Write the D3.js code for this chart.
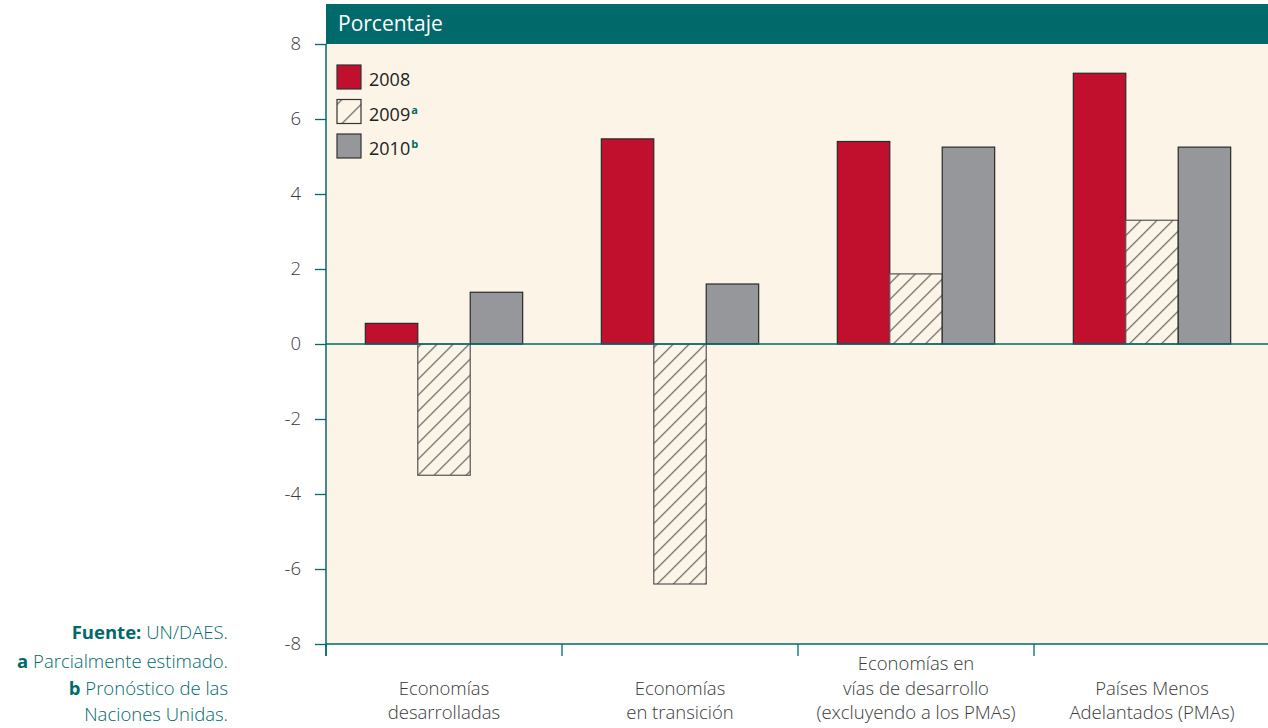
<!DOCTYPE html>
<html>
<head>
<meta charset="utf-8">
<script src="https://d3js.org/d3.v7.min.js"></script>
<style>
  body { margin: 0; background: #fff; }
  svg { display: block; font-family: "Open Sans", "Noto Sans", sans-serif; }
</style>
</head>
<body>
<div id="chart"></div>
<script>
// Categories and series (crecimiento, porcentaje)
const categories = [
  ["Economías", "desarrolladas"],
  ["Economías", "en transición"],
  ["Economías en", "vías de desarrollo", "(excluyendo a los PMAs)"],
  ["Países Menos", "Adelantados (PMAs)"]
];
const seriesNames = ["2008", "2009", "2010"];
const seriesNotes = ["", "a", "b"];
const values2008 = [0.55, 5.47, 5.4, 7.22];
const values2009 = [-3.5, -6.4, 1.87, 3.3];
const values2010 = [1.38, 1.6, 5.25, 5.25];
const yTicks = [-8, -6, -4, -2, 0, 2, 4, 6, 8];

const W = 1268, H = 728;
const teal = "#006a6b";
const cream = "#fbf4e7";
const fills = ["#c1102e", "url(#hatch)", "#96979b"];

const svg = d3.select("#chart").append("svg")
  .attr("width", W).attr("height", H);

// hatch pattern for 2009
const defs = svg.append("defs");
const pat = defs.append("pattern")
  .attr("id", "hatch")
  .attr("patternUnits", "userSpaceOnUse")
  .attr("width", 16).attr("height", 16);
pat.append("rect").attr("width", 16).attr("height", 16).attr("fill", cream);
pat.append("path")
  .attr("d", "M-4,4 L4,-4 M0,16 L16,0 M12,20 L20,12")
  .attr("stroke", "#555").attr("stroke-width", 1.1);

const legPat = defs.append("pattern")
  .attr("id", "hatchLeg")
  .attr("patternUnits", "userSpaceOnUse")
  .attr("x", 337).attr("y", 100)
  .attr("width", 24).attr("height", 24);
legPat.append("rect").attr("width", 24).attr("height", 24).attr("fill", cream);
legPat.append("path")
  .attr("d", "M0,24 L24,0 M-12,12 L12,-12 M12,36 L36,12")
  .attr("stroke", "#555").attr("stroke-width", 1.1);

const plotL = 326, plotR = W + 2, plotT = 44, plotB = 644;

const y = d3.scaleLinear().domain([-8, 8]).range([plotB, plotT]);
const x0 = d3.scaleBand().domain(d3.range(categories.length))
  .range([plotL, plotR]).paddingInner(1 / 3).paddingOuter(1 / 6);
const x1 = d3.scaleBand().domain(d3.range(seriesNames.length))
  .range([0, x0.bandwidth()]);

// plot background + header
svg.append("rect").attr("x", plotL).attr("y", plotT)
  .attr("width", W - plotL).attr("height", plotB - plotT).attr("fill", cream);
svg.append("rect").attr("x", plotL).attr("y", 4)
  .attr("width", W - plotL).attr("height", plotT - 4).attr("fill", teal);
svg.append("text").attr("x", 338).attr("y", 31)
  .attr("fill", "#fff").attr("font-size", 21).text("Porcentaje");

// bars
const series = [values2008, values2009, values2010];
const groups = svg.append("g").selectAll("g")
  .data(categories).join("g")
  .attr("transform", (d, i) => `translate(${x0(i)},0)`);

groups.selectAll("rect")
  .data((d, i) => series.map((s, k) => ({ k, v: s[i] })))
  .join("rect")
  .attr("x", d => x1(d.k))
  .attr("width", x1.bandwidth())
  .attr("y", d => y(Math.max(0, d.v)))
  .attr("height", d => Math.abs(y(d.v) - y(0)))
  .attr("fill", d => fills[d.k])
  .attr("stroke", d => d.k === 1 ? "#555" : "#2a2a2a")
  .attr("stroke-width", 1.2);

// zero line
svg.append("line")
  .attr("x1", plotL).attr("x2", W)
  .attr("y1", y(0)).attr("y2", y(0))
  .attr("stroke", teal).attr("stroke-width", 1.5);

// y axis
const yAxis = svg.append("g").attr("transform", `translate(${plotL},0)`)
  .call(d3.axisLeft(y).tickValues(yTicks).tickSize(11).tickPadding(14)
    .tickFormat(d => String(d)));
yAxis.select(".domain").attr("stroke", teal).attr("stroke-width", 1.5)
  .attr("d", `M0,${plotT}V${plotB + 12}`);
yAxis.selectAll(".tick line").attr("stroke", teal).attr("stroke-width", 1.3);
yAxis.selectAll(".tick text").attr("fill", "#3a3a3a").attr("font-size", 18.5)
  .attr("font-family", "'Open Sans', sans-serif").attr("font-weight", 300);

// x axis with ticks between groups
const xTicks = d3.range(categories.length).map(i => x0(i) - x0.step() * x0.paddingInner() / 2);
const xAxis = svg.append("g");
xAxis.append("line").attr("x1", plotL).attr("x2", W)
  .attr("y1", plotB).attr("y2", plotB)
  .attr("stroke", teal).attr("stroke-width", 1.5);
xAxis.selectAll("line.tk").data(xTicks).join("line").attr("class", "tk")
  .attr("x1", d => d).attr("x2", d => d)
  .attr("y1", plotB).attr("y2", plotB + 12)
  .attr("stroke", teal).attr("stroke-width", 1.3);

// category labels, bottom-aligned
const lineH = 24.5;
groups.each(function(lines, i) {
  const t = d3.select(this).append("text")
    .attr("text-anchor", "middle")
    .attr("fill", "#3a3a3a").attr("font-size", 18.5).attr("font-weight", 300);
  lines.forEach((ln, j) => {
    t.append("tspan")
      .attr("x", x0.bandwidth() / 2)
      .attr("y", 719 - (lines.length - 1 - j) * lineH)
      .text(ln);
  });
});

// legend
const leg = svg.append("g").selectAll("g")
  .data(seriesNames).join("g")
  .attr("transform", (d, i) => `translate(337,${65 + i * 34.5})`);
leg.append("rect").attr("width", 24).attr("height", 24)
  .attr("fill", (d, i) => i === 1 ? "url(#hatchLeg)" : fills[i])
  .attr("stroke", "#333").attr("stroke-width", 1.2);
const legText = leg.append("text").attr("x", 32).attr("y", 21)
  .attr("fill", "#222").attr("font-size", 18);
legText.append("tspan").text(d => d);
legText.append("tspan").attr("dy", -7).attr("dx", 1)
  .attr("font-size", 11).attr("font-weight", 700).attr("fill", teal)
  .text((d, i) => seriesNotes[i]);

// notes
const notes = svg.append("g").attr("font-size", 18.5).attr("fill", teal)
  .attr("text-anchor", "end");
const n0 = notes.append("text").attr("x", 228).attr("y", 639).attr("font-weight", 300);
n0.append("tspan").attr("font-weight", 700).text("Fuente: ");
n0.append("tspan").text("UN/DAES.");
const n1 = notes.append("text").attr("x", 228).attr("y", 668).attr("font-weight", 300);
n1.append("tspan").attr("font-weight", 700).text("a ");
n1.append("tspan").text("Parcialmente estimado.");
const n2 = notes.append("text").attr("x", 228).attr("y", 695).attr("font-weight", 300);
n2.append("tspan").attr("font-weight", 700).text("b ");
n2.append("tspan").text("Pronóstico de las");
notes.append("text").attr("x", 228).attr("y", 721).attr("font-weight", 300)
  .text("Naciones Unidas.");
</script>
</body>
</html>
